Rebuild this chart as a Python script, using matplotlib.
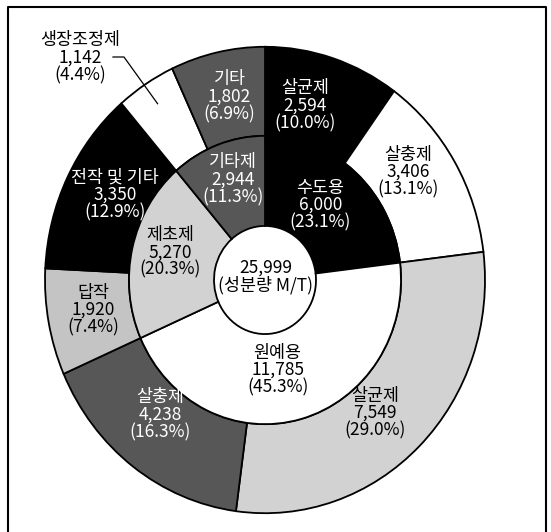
import matplotlib
matplotlib.use("Agg")
import matplotlib.pyplot as plt
import numpy as np

plt.rcParams['font.family'] = ['Noto Sans CJK KR', 'DejaVu Sans']

# ---- data ----
inner_labels = ['수도용', '원예용', '제초제', '기타제']
inner_values = [6000, 11785, 5270, 2944]
inner_pcts = ['23.1%', '45.3%', '20.3%', '11.3%']

outer_labels = ['살균제', '살충제', '살균제', '살충제', '답작', '전작 및 기타', '생장조정제', '기타']
outer_values = [2594, 3406, 7549, 4238, 1920, 3350, 1142, 1802]
outer_pcts = ['10.0%', '13.1%', '29.0%', '16.3%', '7.4%', '12.9%', '4.4%', '6.9%']

total_value = 25999
total_unit = '(성분량 M/T)'

# ---- styles / layout ----
BLACK, WHITE, LIGHT, DARK = '#000000', '#ffffff', '#d2d2d2', '#575757'
inner_colors = [BLACK, WHITE, LIGHT, DARK]
outer_colors = [BLACK, WHITE, LIGHT, DARK, '#c4c4c4', BLACK, WHITE, DARK]
# label nudges in pixels (dx right, dy down)
outer_nudge = [(-15, 5), (-10, -12), (-15, -1), (2, -16), (3, -4), (10, -2), (0, 0), (3, 1)]
inner_nudge = [(-9, 2), (-13, -9), (0, -5), (2, -4)]


def text_color(c):
    return 'white' if c in (BLACK, DARK) else 'black'


W, H = 551, 532
SY = 1.06  # vertical stretch of the scanned original
fig = plt.figure(figsize=(W / 100, H / 100), dpi=100)
ax = fig.add_axes([0, 0, 1, 1])


def to_data(xi, yi):
    return xi, (H - yi) / SY


cx_i, cy_i = 265, 280
cx, cy = to_data(cx_i, cy_i)
R_out, R_mid, R_hole = 220, 136, 51

wp = dict(edgecolor='black', linewidth=1.3)
ax.pie(outer_values, colors=outer_colors, radius=R_out, center=(cx, cy),
       startangle=90, counterclock=False,
       wedgeprops=dict(width=R_out - R_mid, **wp))
ax.pie(inner_values, colors=inner_colors, radius=R_mid, center=(cx, cy),
       startangle=90, counterclock=False,
       wedgeprops=dict(width=R_mid - R_hole, **wp))

fs = 12.5
ls = 0.96


def mid_angles(vals):
    v = np.array(vals, float)
    c = np.cumsum(v) - v / 2
    return 90 - 360 * c / v.sum()


def put(xi, yi, txt, color):
    x, y = to_data(xi, yi)
    ax.text(x, y, txt, ha='center', va='center', fontsize=fs,
            linespacing=ls, color=color, fontweight='light')


r_o = (R_out + R_mid) / 2
for lab, val, pct, col, ang, (dx, dy) in zip(outer_labels, outer_values, outer_pcts,
                                             outer_colors, mid_angles(outer_values),
                                             outer_nudge):
    txt = f'{lab}\n{val:,}\n({pct})'
    a = np.deg2rad(ang)
    if lab == '생장조정제':
        px, py = cx + 198 * np.cos(a), cy + 198 * np.sin(a)
        put(80, 58, txt, 'black')
        x1, y1 = to_data(113, 57)
        x2, y2 = to_data(124, 57)
        ax.plot([x1, x2, px], [y1, y2, py], color='black', lw=0.9)
        continue
    xi = cx_i + r_o * np.cos(a) + dx
    yi = cy_i - r_o * SY * np.sin(a) + dy
    put(xi, yi, txt, text_color(col))

r_i = 97
for lab, val, pct, col, ang, (dx, dy) in zip(inner_labels, inner_values, inner_pcts,
                                             inner_colors, mid_angles(inner_values),
                                             inner_nudge):
    txt = f'{lab}\n{val:,}\n({pct})'
    a = np.deg2rad(ang)
    xi = cx_i + r_i * np.cos(a) + dx
    yi = cy_i - r_i * SY * np.sin(a) + dy
    put(xi, yi, txt, text_color(col))

put(266, 277, f'{total_value:,}\n{total_unit}', 'black')

# frame (open at the bottom, as in the cropped scan)
fx = [8, 8, 546, 546]
fy = [H, 7, 7, H]
ax.plot(fx, [(H - v) / SY for v in fy], color='black', lw=1.5, clip_on=False)

ax.set_xlim(0, W)
ax.set_ylim(0, H / SY)
ax.set_aspect('auto')
ax.axis('off')

fig.savefig('out.png', dpi=100)
